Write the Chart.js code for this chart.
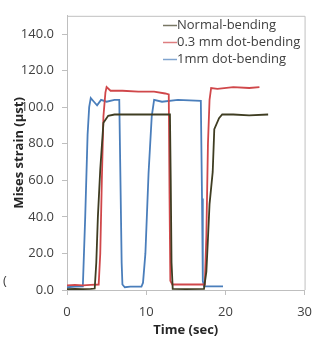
<!DOCTYPE html>
<html>
<head>
<meta charset="utf-8">
<script src="https://cdn.jsdelivr.net/npm/chart.js@4/dist/chart.umd.min.js"></script>
<style>
html,body{margin:0;padding:0;background:#fff;}
canvas{display:block;}
</style>
</head>
<body>
<canvas id="c" width="321" height="338"></canvas>
<script>
// ---- data ----
const seriesLabels = ["Normal-bending", "0.3 mm dot-bending", "1mm dot-bending"];
const seriesColors = ["#3f3d22", "#d0474a", "#4a7ebb"];

const normalT = [0, 1, 2, 3, 3.5, 3.7, 3.9, 4.2, 4.6, 5.2, 6, 8, 10, 12, 13.0, 13.1, 13.2, 13.35, 15, 17.3, 17.6, 17.8, 18.0, 18.4, 18.6, 19.2, 19.6, 21, 23, 25.4];
const normalV = [0.5, 0.6, 0.5, 0.6, 0.8, 15, 40, 66, 91.5, 95.3, 96, 96, 96, 96, 96, 60, 15, 0.6, 0.5, 0.6, 10, 28, 47, 64.6, 88, 94, 96, 96, 95.5, 96];

const dot03T = [0, 1, 2, 3, 4.0, 4.2, 4.4, 4.6, 4.85, 5.0, 5.5, 7, 9, 11, 12.4, 12.85, 12.95, 13.05, 13.3, 15, 17.4, 17.6, 17.8, 18.0, 18.2, 19, 21, 23, 24.3];
const dot03V = [2.5, 2.8, 2.5, 2.8, 3, 20, 60, 95, 108, 111, 109, 109, 108.5, 108.5, 107.5, 107, 50, 5, 3, 3, 3, 30, 80, 104, 110.5, 110, 111, 110.5, 111];

const dot1T = [0, 1, 2.0, 2.3, 2.6, 2.8, 3.0, 3.4, 3.8, 4.3, 5, 6, 6.6, 6.75, 6.9, 7.0, 7.3, 8, 9.4, 9.6, 9.9, 10.3, 10.7, 11.0, 12, 14, 16.9, 17.05, 17.15, 17.3, 18.5, 19.7];
const dot1V = [1.5, 1.8, 2.0, 40, 85, 100, 105, 103, 101, 104, 103, 104, 104, 60, 15, 3, 1.5, 1.8, 1.8, 4, 20, 64, 95, 104, 103, 104, 103.5, 50, 5, 2, 2, 2];

const xTicks = [0, 10, 20, 30];
const yTicks = [0, 20, 40, 60, 80, 100, 120, 140];
const xTitle = "Time (sec)";
const yTitle = "Mises strain (\u03bcst)";

const pts = (t, v) => t.map((x, i) => ({x: x, y: v[i]}));
const FONT = "'Open Sans', 'Liberation Sans', sans-serif";

const decorations = {
  id: 'decorations',
  beforeDatasetsDraw(chart) {
    const {ctx, chartArea: a} = chart;
    ctx.save();
    ctx.strokeStyle = '#c0c0c0';
    ctx.lineWidth = 1;
    ctx.beginPath();
    ctx.moveTo(a.left, a.top + 0.5);
    ctx.lineTo(a.right + 0.5, a.top + 0.5);
    ctx.lineTo(a.right + 0.5, a.bottom);
    ctx.stroke();
    ctx.restore();
  },
  afterDraw(chart) {
    const ctx = chart.ctx;
    ctx.save();
    // legend
    ctx.font = "13px " + FONT;
    ctx.textBaseline = 'middle';
    ctx.textAlign = 'left';
    const ys = [25, 42, 59];
    chart.data.datasets.forEach((ds, i) => {
      ctx.strokeStyle = ds.borderColor;
      ctx.globalAlpha = 0.7;
      ctx.lineWidth = 1.5;
      ctx.beginPath();
      ctx.moveTo(163, ys[i] + 0.5);
      ctx.lineTo(177, ys[i] + 0.5);
      ctx.stroke();
      ctx.globalAlpha = 1;
      ctx.fillStyle = '#404040';
      ctx.fillText(ds.label, 177, ys[i]);
    });
    // stray mark at left of the picture
    ctx.fillStyle = '#404040';
    ctx.font = "13px " + FONT;
    ctx.fillText("(", 3, 281);
    ctx.restore();
  }
};

new Chart(document.getElementById('c'), {
  type: 'scatter',
  data: {
    datasets: [
      {label: seriesLabels[0], data: pts(normalT, normalV), borderColor: seriesColors[0]},
      {label: seriesLabels[1], data: pts(dot03T, dot03V), borderColor: seriesColors[1]},
      {label: seriesLabels[2], data: pts(dot1T, dot1V), borderColor: seriesColors[2]}
    ].map(d => Object.assign(d, {showLine: true, pointRadius: 0, borderWidth: 1.8, tension: 0, fill: false}))
  },
  options: {
    responsive: false,
    animation: false,
    events: [],
    layout: {padding: {left: 0, right: 7, top: 11, bottom: 0}},
    plugins: {legend: {display: false}, tooltip: {enabled: false}},
    scales: {
      x: {
        type: 'linear', min: 0, max: 30,
        afterBuildTicks: s => { s.ticks = xTicks.map(v => ({value: v})); },
        afterFit: s => { s.height = 48; },
        grid: {drawOnChartArea: false, tickLength: 5, color: '#bfbfbf'},
        border: {color: '#bfbfbf', width: 1},
        ticks: {padding: 9, color: '#404040', font: {family: FONT, size: 13}, maxRotation: 0},
        title: {display: true, text: xTitle, color: '#262626', font: {family: FONT, size: 13, weight: 'bold'}, padding: {top: 0, bottom: 0}}
      },
      y: {
        type: 'linear', min: 0, max: 150,
        afterBuildTicks: s => { s.ticks = yTicks.map(v => ({value: v})); },
        afterFit: s => { s.width = 67; },
        grid: {drawOnChartArea: false, tickLength: 5, color: '#bfbfbf'},
        border: {color: '#bfbfbf', width: 1},
        ticks: {padding: 8, color: '#404040', font: {family: FONT, size: 13}, callback: v => Number(v).toFixed(1)},
        title: {display: true, text: yTitle, color: '#262626', font: {family: FONT, size: 13, weight: 'bold'}, padding: {top: 11, bottom: 0}}
      }
    }
  },
  plugins: [decorations]
});
</script>
</body>
</html>
